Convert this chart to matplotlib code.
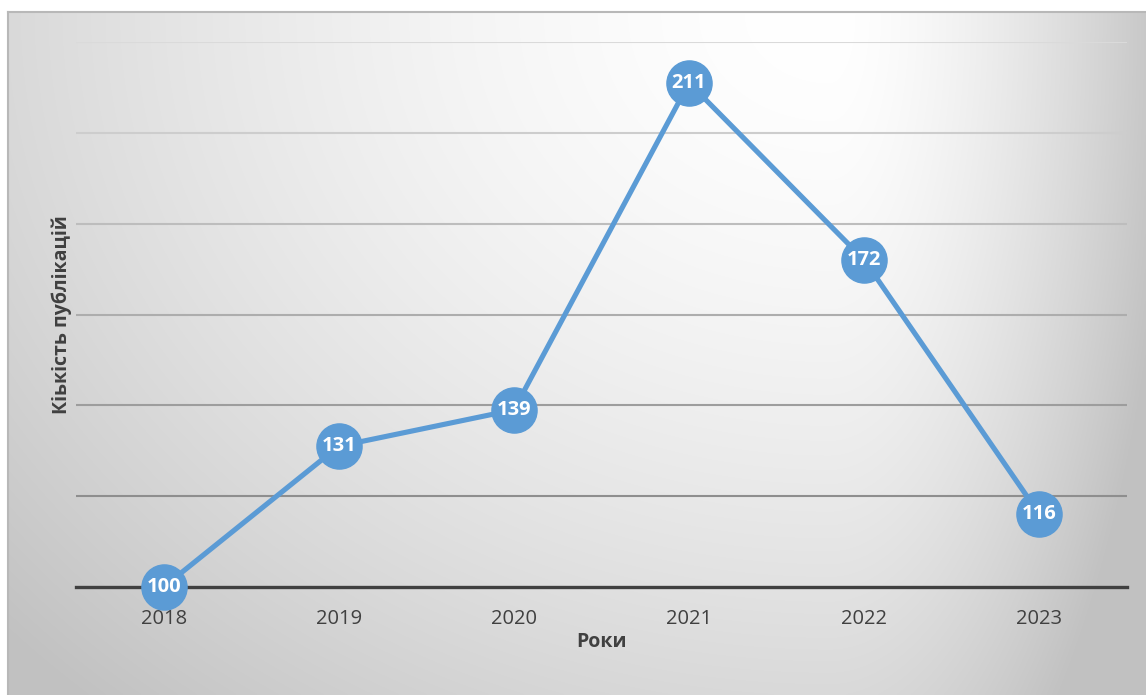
import numpy as np
import matplotlib
matplotlib.use("Agg")
import matplotlib.pyplot as plt

plt.rcParams['font.family'] = ['Open Sans', 'DejaVu Sans']

# Data
years = ["2018", "2019", "2020", "2021", "2022", "2023"]
publications = [100, 131, 139, 211, 172, 116]
grid_levels = [120, 140, 160, 180, 200, 220]

W, H = 1146, 695
fig = plt.figure(figsize=(W / 100, H / 100), dpi=100)
fig.patch.set_facecolor("white")

# Chart area background with a soft gradient (light at top right, grey at edges)
left_px, top_px = 8, 12
bg = fig.add_axes([left_px / W, 0, 1 - left_px / W, (H - top_px) / H], zorder=0)
xs = np.linspace(left_px, W, 500)
ys = np.linspace(top_px, H, 300)
X, Y = np.meshgrid(xs, ys)
cx, cy = 830, 12
dx = np.where(X < cx, (cx - X) / (cx - left_px), (X - cx) / ((W - cx) * 0.8))
dy = (Y - cy) / (H - cy)
d = np.clip(np.sqrt(dx ** 2 + dy ** 2) / 1.35, 0, 1)
shade = 1 - 0.24 * d ** 1.6
bg.imshow(np.dstack([shade] * 3), aspect="auto", extent=[0, 1, 0, 1],
          origin="upper", interpolation="bilinear")
bg.set_xticks([])
bg.set_yticks([])
for side in ["right", "bottom"]:
    bg.spines[side].set_visible(False)
for side in ["top", "left"]:
    bg.spines[side].set_color("#b8b8b8")
    bg.spines[side].set_linewidth(1.5)

# Main plot
ax = fig.add_axes([76 / W, 1 - 587 / H, (1127 - 76) / W, (587 - 42) / H], zorder=1)
ax.patch.set_alpha(0)
x = np.arange(len(years))

grid_colors = ["#8e8e8e", "#9d9d9d", "#adadad", "#bdbdbd", "#cdcdcd", "#dadada"]
for lvl, c in zip(grid_levels, grid_colors):
    ax.axhline(lvl, color=c, linewidth=1.5, zorder=1)
ax.axhline(100, color="#404040", linewidth=2.4, zorder=2, clip_on=False)

ax.plot(x, publications, color="#5b9bd5", linewidth=3.7, marker="o",
        markersize=32.5, markerfacecolor="#5b9bd5", markeredgecolor="#5b9bd5",
        zorder=3, clip_on=False)
for xi, v in zip(x, publications):
    ax.text(xi, v, str(v), ha="center", va="center", color="white",
            fontsize=14.5, fontweight="bold", zorder=4)

ax.set_xlim(-0.5, len(years) - 0.5)
ax.set_ylim(100, 220)
ax.set_xticks(x)
ax.set_xticklabels(years, fontsize=14.5, color="#404040")
ax.tick_params(axis="x", length=0, pad=16)
ax.set_yticks([])
for s in ax.spines.values():
    s.set_visible(False)

ax.set_xlabel("Роки", fontsize=14, fontweight="bold", color="#404040", labelpad=2)
ax.set_ylabel("Кіькість публікацій", fontsize=14, fontweight="bold",
              color="#404040", labelpad=3)

fig.savefig("out.png", dpi=100)
